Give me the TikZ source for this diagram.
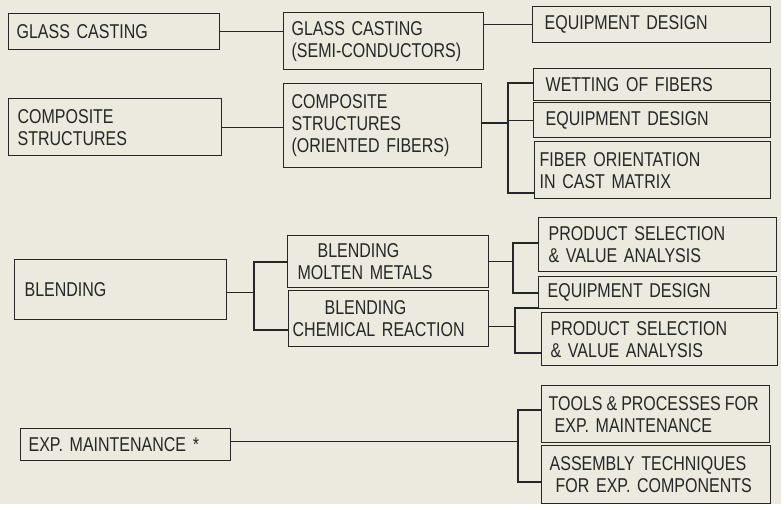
\documentclass[tikz,border=0pt]{standalone}
\usepackage{fontspec}
\setmainfont{Liberation Sans}[FakeStretch=0.8]
\definecolor{paper}{HTML}{ECEADF}
\definecolor{ink}{HTML}{262626}
\newcommand\mybox[7]{%
  \pgfmathsetlengthmacro\bxw{(#4-#2)*1pt}%
  \pgfmathsetlengthmacro\bxh{(#5-#3)*1pt}%
  \pgfmathsetlengthmacro\bxt{(#4-#2-2*#6)*1pt}%
  \node[box, inner xsep=#6pt, minimum width=\bxw, minimum height=\bxh, text width=\bxt] (#1) at (#2pt,-#3pt) {#7};}
\begin{document}
\begin{tikzpicture}[
  box/.style={draw=ink, line width=1.3pt, anchor=north west, inner ysep=0pt, align=left,
    text=ink, font=\fontsize{20}{22}\selectfont},
  conn/.style={draw=ink, line width=1.2pt}]
\fill[paper] (0,0) rectangle (781pt,-504pt);
\useasboundingbox (0,0) rectangle (781pt,-504pt);
% row 1
\mybox{gc}{8}{13}{219}{49}{8}{GLASS CASTING}
\mybox{gcs}{283}{12}{483}{69}{8}{GLASS CASTING\\(SEMI-CONDUCTORS)}
\mybox{eqa}{532}{6}{770}{42}{12}{EQUIPMENT DESIGN}
% row 2
\mybox{cs}{8}{98}{221}{155}{9}{COMPOSITE\\STRUCTURES}
\mybox{cso}{283}{83}{481}{167}{8}{COMPOSITE\\STRUCTURES\\(ORIENTED FIBERS)}
\mybox{wf}{533}{68}{770}{100}{12}{WETTING OF FIBERS}
\mybox{eqb}{533}{102}{770}{137}{12}{EQUIPMENT DESIGN}
\mybox{fb}{534}{141}{770}{198}{5}{FIBER ORIENTATION\\IN CAST MATRIX}
% row 3
\mybox{bl}{14}{259}{226}{319}{10}{BLENDING}
\mybox{mm}{287}{235}{488}{287}{10}{\hspace*{1em}BLENDING\\MOLTEN METALS}
\mybox{cr}{288}{290}{488}{346}{4}{\hspace*{1.6em}BLENDING\\\mbox{CHEMICAL REACTION}}
\mybox{psa}{538}{217}{776}{271}{10}{PRODUCT SELECTION\\\& VALUE ANALYSIS}
\mybox{eqc}{538}{276}{776}{308}{9}{EQUIPMENT DESIGN}
\mybox{psb}{541}{312}{777}{365}{9}{PRODUCT SELECTION\\\& VALUE ANALYSIS}
% row 4
\mybox{em}{20}{428}{230}{460}{8}{EXP. MAINTENANCE *}
\mybox{tp}{541}{385}{769}{442}{7}{\mbox{\spaceskip=0.2em TOOLS \& PROCESSES FOR}\\\hspace*{0.3em}EXP. MAINTENANCE}
\mybox{ac}{541}{445}{770}{503}{8}{\mbox{ASSEMBLY TECHNIQUES}\\\hspace*{0.3em}\mbox{FOR EXP. COMPONENTS}}
% connectors row 1
\draw[conn] (gc.east) -- (gc.east -| gcs.west);
\draw[conn] (eqa.west -| gcs.east) -- (eqa.west);
% row 2
\draw[conn] (cs.east) -- (cs.east -| cso.west);
\coordinate (ka) at (508pt,-83pt);
\coordinate (kb) at (508pt,-193pt);
\draw[conn] (ka -| wf.west) -- (ka) -- (kb) -- (kb -| fb.west);
\draw[conn] (ka |- eqb.west) -- (eqb.west);
\draw[conn, line width=2.2pt] ([yshift=3pt]cso.east) -- ([yshift=3pt]cso.east -| ka);
% row 3
\coordinate (kc) at (254pt,-262pt);
\coordinate (kd) at (254pt,-330pt);
\draw[conn] ([yshift=-3pt]bl.east) -- ([yshift=-3pt]bl.east -| kc);
\draw[conn] (kc -| mm.west) -- (kc) -- (kd) -- (kd -| cr.west);
\coordinate (ke) at (513pt,-243pt);
\coordinate (kf) at (513pt,-293pt);
\draw[conn] (mm.east) -- (mm.east -| ke);
\draw[conn] (ke -| psa.west) -- (ke) -- (kf) -- (kf -| eqc.west);
\coordinate (kg) at (515pt,-308pt);
\coordinate (kh) at (515pt,-353pt);
\draw[conn] ([yshift=-8pt]cr.east) -- ([yshift=-8pt]cr.east -| kg);
\draw[conn] (kg -| eqc.west) -- (kg) -- (kh) -- (kh -| psb.west);
% row 4
\coordinate (ki) at (518pt,-410pt);
\coordinate (kj) at (518pt,-482pt);
\draw[conn, line width=0.9pt] ([yshift=3pt]em.east) -- ([yshift=3pt]em.east -| ki);
\draw[conn] (ki -| tp.west) -- (ki) -- (kj) -- (kj -| ac.west);
\end{tikzpicture}
\end{document}
